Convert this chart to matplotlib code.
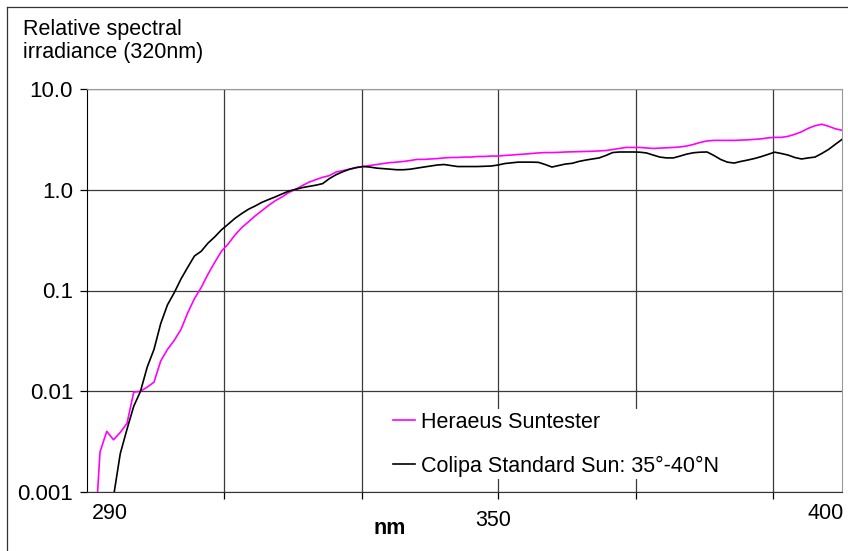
import numpy as np
import matplotlib.pyplot as plt
from matplotlib.lines import Line2D

# Wavelength (nm) and relative spectral irradiance (normalised at 320 nm)
wl_heraeus = list(range(289, 401))
heraeus = [0.0002, 0.0025, 0.0040, 0.0033, 0.0039, 0.0048, 0.0098, 0.0100, 0.011, 0.0123,
           0.020, 0.026, 0.032, 0.041, 0.060, 0.083, 0.107, 0.145, 0.19, 0.245,
           0.29, 0.355, 0.42, 0.48, 0.55, 0.62, 0.70, 0.78, 0.85, 0.94,
           1.01, 1.10, 1.19, 1.26, 1.33, 1.38, 1.50, 1.55, 1.60, 1.66,
           1.70, 1.74, 1.78, 1.82, 1.86, 1.88, 1.91, 1.95, 2.00, 2.00,
           2.02, 2.04, 2.07, 2.09, 2.09, 2.11, 2.11, 2.14, 2.14, 2.16,
           2.16, 2.19, 2.21, 2.24, 2.26, 2.29, 2.32, 2.34, 2.34, 2.35,
           2.37, 2.38, 2.39, 2.40, 2.41, 2.43, 2.45, 2.51, 2.57, 2.63,
           2.63, 2.63, 2.60, 2.57, 2.59, 2.61, 2.63, 2.66, 2.72, 2.82,
           2.95, 3.05, 3.09, 3.09, 3.09, 3.09, 3.11, 3.13, 3.16, 3.20,
           3.27, 3.31, 3.31, 3.39, 3.55, 3.76, 4.07, 4.32, 4.47, 4.27,
           4.03, 3.89]

wl_colipa = list(range(292, 401))
colipa = [0.0009, 0.0024, 0.0042, 0.0071, 0.010, 0.0174, 0.026, 0.047, 0.072, 0.095,
          0.13, 0.17, 0.22, 0.245, 0.295, 0.34, 0.40, 0.455, 0.52, 0.58,
          0.64, 0.69, 0.75, 0.80, 0.85, 0.91, 0.97, 1.01, 1.05, 1.08,
          1.11, 1.15, 1.29, 1.41, 1.51, 1.60, 1.66, 1.70, 1.68, 1.64,
          1.62, 1.60, 1.58, 1.58, 1.60, 1.64, 1.68, 1.72, 1.76, 1.78,
          1.74, 1.70, 1.70, 1.70, 1.70, 1.71, 1.72, 1.76, 1.82, 1.85,
          1.88, 1.88, 1.88, 1.87, 1.78, 1.68, 1.74, 1.80, 1.83, 1.91,
          1.97, 2.02, 2.07, 2.19, 2.34, 2.37, 2.37, 2.37, 2.36, 2.32,
          2.21, 2.11, 2.07, 2.07, 2.16, 2.26, 2.33, 2.36, 2.37, 2.19,
          2.00, 1.88, 1.84, 1.91, 1.97, 2.04, 2.13, 2.24, 2.36, 2.29,
          2.21, 2.09, 2.02, 2.07, 2.11, 2.29, 2.51, 2.82, 3.16]

grid_x = [308.4, 328.8, 349.0, 369.5, 389.8]
label_x = [291.5, 348.3, 397.6]
label_text = ['290', '350', '400']
y_ticks = [0.001, 0.01, 0.1, 1, 10]
y_labels = ['0.001', '0.01', '0.1', '1.0', '10.0']

plt.rcParams['font.family'] = ['Liberation Sans', 'DejaVu Sans']
FS = 15.5

W, H = 848, 551
fig = plt.figure(figsize=(W / 100, H / 100), dpi=100)
ax = fig.add_axes([87 / W, (H - 492) / H, 755 / W, 403 / H])

ax.plot(wl_heraeus, heraeus, color='#ff00ff', lw=1.2, label='Heraeus Suntester', zorder=3)
ax.plot(wl_colipa, colipa, color='black', lw=1.2, label='Colipa Standard Sun: 35°-40°N', zorder=3)

ax.set_yscale('log')
ax.set_xlim(288.07, 400)
ax.set_ylim(0.001, 10)
ax.set_yticks(y_ticks, labels=y_labels, fontsize=16)
ax.yaxis.set_minor_locator(plt.NullLocator())
ax.tick_params(axis='y', direction='out', length=5, width=0.9, pad=5, colors='black')

ax.set_xticks(grid_x, labels=[''] * len(grid_x))
ax.tick_params(axis='x', which='major', direction='out', length=5, width=0.9)
ax.set_xticks(label_x, labels=label_text, minor=True)
ax.tick_params(axis='x', which='minor', length=0, labelsize=FS, pad=8)
for lbl in ax.xaxis.get_minorticklabels():
    if lbl.get_text() == '350':
        lbl.set_y(-0.016)

ax.grid(True, which='major', color='#3a3a3a', lw=0.9)
ax.set_axisbelow(True)
for side in ['top', 'right']:
    ax.spines[side].set_color('#999999')
ax.spines['left'].set_color('black')
ax.spines['bottom'].set_color('#333333')

leg = ax.legend(loc='upper left', bbox_to_anchor=(0.402, 0.205), frameon=True,
                fontsize=FS, handlelength=1.05, handletextpad=0.25, labelspacing=1.08,
                borderpad=0.1, borderaxespad=0, fancybox=False)
leg.get_frame().set_facecolor('white')
leg.get_frame().set_edgecolor('none')
leg.get_frame().set_alpha(1)

fig.text(23 / W, 1 - 19 / H, 'Relative spectral\nirradiance (320nm)', fontsize=FS,
         ha='left', va='top', linespacing=1.15)
fig.text(390 / W, 1 - 528 / H, 'nm', fontsize=FS, fontweight='bold', ha='center', va='center')

# outer frame (left and top edges)
fig.add_artist(Line2D([7 / W, 7 / W], [0, 1 - 7 / H], transform=fig.transFigure, color='#333333', lw=0.9))
fig.add_artist(Line2D([7 / W, 1], [1 - 7 / H, 1 - 7 / H], transform=fig.transFigure, color='#333333', lw=0.9))

fig.savefig('out.png', dpi=100)
